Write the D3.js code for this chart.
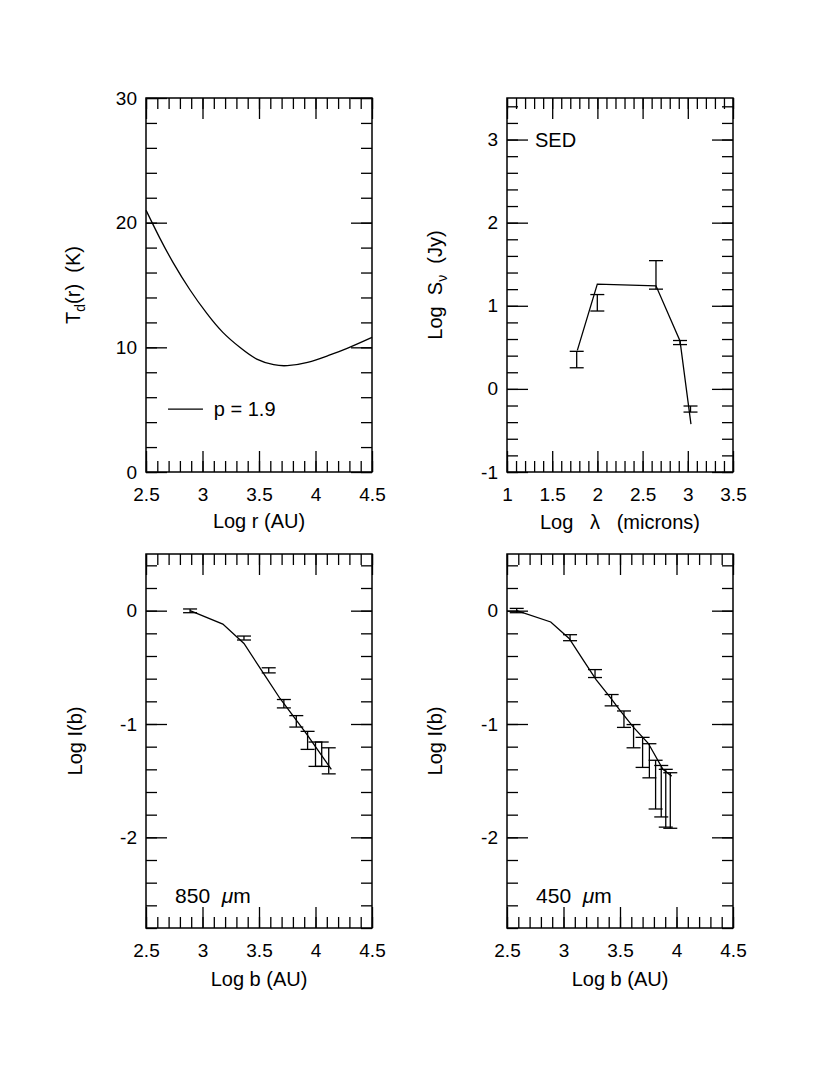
<!DOCTYPE html>
<html>
<head>
<meta charset="utf-8">
<script src="https://cdn.jsdelivr.net/npm/d3@7"></script>
<style>
  body { margin: 0; background: #fff; }
  svg text { font-family: "Liberation Sans", Arial, Helvetica, sans-serif; fill: #000; white-space: pre; }
</style>
</head>
<body>
<script>
// ---- top left: dust temperature profile
var tempLogR = [2.5, 2.62, 2.74, 2.89, 3.04, 3.18, 3.33, 3.48, 3.63, 3.75, 3.93, 4.11, 4.28, 4.5];
var tempT    = [21.0, 18.8, 16.8, 14.6, 12.7, 11.2, 10.0, 9.06, 8.61, 8.53, 8.8, 9.33, 9.92, 10.8];

// ---- top right: SED
var sedObsX  = [1.771, 1.999, 2.648, 2.914, 3.03];
var sedObsLo = [0.254, 0.937, 1.2, 0.533, -0.279];
var sedObsHi = [0.452, 1.135, 1.543, 0.582, -0.206];
var sedModX  = [1.778, 1.999, 2.648, 2.914, 3.035];
var sedModY  = [0.464, 1.26, 1.24, 0.577, -0.424];

// ---- bottom left: 850 micron profile
var p850ObsX  = [2.89, 3.367, 3.586, 3.72, 3.83, 3.93, 4.0, 4.055, 4.117];
var p850ObsHi = [0.015, -0.224, -0.504, -0.784, -0.926, -1.065, -1.159, -1.159, -1.21];
var p850ObsLo = [-0.018, -0.259, -0.549, -0.858, -1.027, -1.224, -1.374, -1.374, -1.44];
var p850ModX  = [2.89, 3.18, 3.367, 3.54, 3.686, 3.84, 3.93, 4.14];
var p850ModY  = [0, -0.118, -0.289, -0.554, -0.775, -0.98, -1.10, -1.40];

// ---- bottom right: 450 micron profile
var p450ObsX  = [2.586, 3.058, 3.279, 3.426, 3.535, 3.62, 3.70, 3.76, 3.815, 3.865, 3.905, 3.945];
var p450ObsHi = [0.02, -0.212, -0.52, -0.74, -0.885, -1.005, -1.118, -1.174, -1.32, -1.366, -1.40, -1.43];
var p450ObsLo = [-0.018, -0.265, -0.59, -0.84, -1.03, -1.21, -1.383, -1.475, -1.75, -1.82, -1.91, -1.92];
var p450ModX  = [2.586, 2.887, 3.05, 3.175, 3.29, 3.41, 3.50, 3.62, 3.75, 3.88, 3.957];
var p450ModY  = [0, -0.10, -0.245, -0.436, -0.61, -0.76, -0.88, -1.03, -1.17, -1.40, -1.46];

// ---- tick labels
var ticksLogR   = [2.5, 3, 3.5, 4, 4.5];
var ticksTemp   = [0, 10, 20, 30];
var ticksLambda = [1, 1.5, 2, 2.5, 3, 3.5];
var ticksFlux   = [-1, 0, 1, 2, 3];
var ticksInt    = [-2, -1, 0];

var svg = d3.select("body").append("svg").attr("width", 830).attr("height", 1075);

var LW = 1.3;
var capHalf = 7;

function zip(a, b) { return a.map((d, i) => [d, b[i]]); }

function panel(box, c) {
    let x = d3.scaleLinear().domain(c.xDomain).range([box.x0, box.x1]);
    let y = d3.scaleLinear().domain(c.yDomain).range([box.y1, box.y0]);
    let g = svg.append("g");

    let sides = [
        [d3.axisBottom, x, box.y1, true, c.xMinor, c.xMajor],
        [d3.axisTop, x, box.y0, false, c.xMinor, c.xMajor],
        [d3.axisLeft, y, box.x0, true, c.yMinor, c.yMajor],
        [d3.axisRight, y, box.x1, false, c.yMinor, c.yMajor],
    ];
    sides.forEach(function (s) {
        let horiz = s[0] === d3.axisBottom || s[0] === d3.axisTop;
        let tr = horiz ? `translate(0,${s[2]})` : `translate(${s[2]},0)`;
        g.append("g").attr("transform", tr)
            .call(s[0](s[1]).tickValues(s[1].ticks(s[4])).tickSize(-11).tickFormat(""))
            .call((a) => a.select(".domain").remove())
            .selectAll("line").attr("stroke-width", LW);
        let major = g.append("g").attr("transform", tr)
            .call(s[0](s[1]).tickValues(s[5]).tickSize(-21)
                .tickPadding(horiz ? 16 : 9)
                .tickFormat(s[3] ? (d) => String(d) : ""))
            .call((a) => a.select(".domain").remove())
            .attr("font-size", 19);
        major.selectAll("line").attr("stroke-width", LW);
    });

    g.append("rect")
        .attr("x", box.x0).attr("y", box.y0)
        .attr("width", box.x1 - box.x0).attr("height", box.y1 - box.y0)
        .attr("fill", "none").attr("stroke", "#000").attr("stroke-width", 1.5);

    // x label
    let xl = g.append("text")
        .attr("x", (box.x0 + box.x1) / 2).attr("y", box.y1 + c.xLabelDy)
        .attr("text-anchor", "middle").attr("font-size", 20);
    c.xLabel(xl);

    // y label
    let yl = g.append("text")
        .attr("transform", `translate(${c.yLabelX},${(box.y0 + box.y1) / 2}) rotate(-90)`)
        .attr("dy", "0.35em")
        .attr("text-anchor", "middle").attr("font-size", 20);
    c.yLabel(yl);

    return { g: g, x: x, y: y };
}

function drawLine(p, xs, ys, curve) {
    p.g.append("path")
        .datum(zip(xs, ys))
        .attr("fill", "none").attr("stroke", "#000").attr("stroke-width", LW)
        .attr("d", d3.line().x((d) => p.x(d[0])).y((d) => p.y(d[1])).curve(curve || d3.curveLinear));
}

function drawErrors(p, xs, lo, hi) {
    let bars = p.g.append("g").attr("stroke", "#000").attr("stroke-width", LW)
        .selectAll("g").data(xs.map((d, i) => ({ x: d, lo: lo[i], hi: hi[i] })))
        .join("g");
    bars.append("line")
        .attr("x1", (d) => p.x(d.x)).attr("x2", (d) => p.x(d.x))
        .attr("y1", (d) => p.y(d.lo)).attr("y2", (d) => p.y(d.hi));
    bars.append("line")
        .attr("x1", (d) => p.x(d.x) - capHalf).attr("x2", (d) => p.x(d.x) + capHalf)
        .attr("y1", (d) => p.y(d.lo)).attr("y2", (d) => p.y(d.lo));
    bars.append("line")
        .attr("x1", (d) => p.x(d.x) - capHalf).attr("x2", (d) => p.x(d.x) + capHalf)
        .attr("y1", (d) => p.y(d.hi)).attr("y2", (d) => p.y(d.hi));
}

function sub(t, main, subs, rest) {
    t.append("tspan").text(main);
    t.append("tspan").attr("font-size", 14).attr("dy", 5).text(subs);
    t.append("tspan").attr("dy", -5).text(rest);
}

// ---------- top left
var tl = panel({ x0: 146, x1: 372, y0: 98, y1: 472 }, {
    xDomain: [2.5, 4.5], yDomain: [0, 30],
    xMinor: 20, xMajor: ticksLogR, yMinor: 15, yMajor: ticksTemp,
    xLabelDy: 56, yLabelX: 73,
    xLabel: (t) => t.text("Log r (AU)"),
    yLabel: (t) => sub(t, "T", "d", "(r)  (K)"),
});
drawLine(tl, tempLogR, tempT, d3.curveNatural);
tl.g.append("line")
    .attr("x1", tl.x(2.695)).attr("x2", tl.x(3.004))
    .attr("y1", tl.y(5.05)).attr("y2", tl.y(5.05))
    .attr("stroke", "#000").attr("stroke-width", LW);
tl.g.append("text")
    .attr("x", tl.x(3.1)).attr("y", tl.y(5.05)).attr("dy", "0.36em")
    .attr("font-size", 20).text("p = 1.9");

// ---------- top right
var tr = panel({ x0: 507, x1: 733, y0: 98, y1: 472 }, {
    xDomain: [1, 3.5], yDomain: [-1, 3.5],
    xMinor: 25, xMajor: ticksLambda, yMinor: 22, yMajor: ticksFlux,
    xLabelDy: 57, yLabelX: 435,
    xLabel: (t) => t.text("Log   λ   (microns)"),
    yLabel: (t) => sub(t, "Log  S", "ν", "  (Jy)"),
});
drawLine(tr, sedModX, sedModY);
drawErrors(tr, sedObsX, sedObsLo, sedObsHi);
tr.g.append("text")
    .attr("x", tr.x(1.31)).attr("y", tr.y(3)).attr("dy", "0.36em")
    .attr("font-size", 20).text("SED");

// ---------- bottom left
var bl = panel({ x0: 146, x1: 372, y0: 554, y1: 928 }, {
    xDomain: [2.5, 4.5], yDomain: [-2.8, 0.5],
    xMinor: 20, xMajor: ticksLogR, yMinor: 16, yMajor: ticksInt,
    xLabelDy: 58, yLabelX: 75,
    xLabel: (t) => t.text("Log b (AU)"),
    yLabel: (t) => t.text("Log I(b)"),
});
drawLine(bl, p850ModX, p850ModY);
drawErrors(bl, p850ObsX, p850ObsLo, p850ObsHi);

// ---------- bottom right
var br = panel({ x0: 507, x1: 733, y0: 554, y1: 928 }, {
    xDomain: [2.5, 4.5], yDomain: [-2.8, 0.5],
    xMinor: 20, xMajor: ticksLogR, yMinor: 16, yMajor: ticksInt,
    xLabelDy: 58, yLabelX: 435,
    xLabel: (t) => t.text("Log b (AU)"),
    yLabel: (t) => t.text("Log I(b)"),
});
drawLine(br, p450ModX, p450ModY);
drawErrors(br, p450ObsX, p450ObsLo, p450ObsHi);

[[bl, "850"], [br, "450"]].forEach(function (d) {
    let t = d[0].g.append("text")
        .attr("x", d[0].x(2.757)).attr("y", d[0].y(-2.516)).attr("dy", "0.36em")
        .attr("font-size", 21);
    t.append("tspan").text(d[1] + "  ");
    t.append("tspan").attr("font-style", "italic").text("μ");
    t.append("tspan").text("m");
});
</script>
</body>
</html>
